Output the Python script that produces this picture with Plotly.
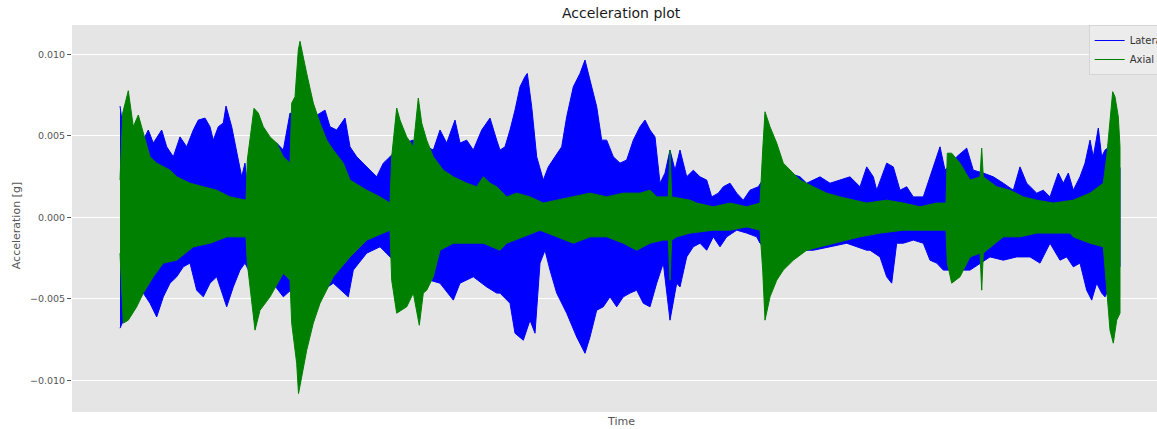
import plotly.graph_objects as go

# ---- Lateral acceleration envelope (time in s, acceleration in g) ----
lat_up_t = [0.0, 0.33, 1.0, 1.67, 2.33, 2.83, 3.33, 4.17, 4.67, 5.33,
            6.0, 6.67, 7.33, 7.83, 8.5, 9.0, 9.33, 9.83, 10.33, 10.6,
            11.17, 11.67, 12.17, 12.5, 12.67, 13.5, 15.0, 15.67, 16.33, 17.0,
            18.5, 19.5, 20.5, 21.0, 21.67, 22.5, 23.0, 23.67, 24.33, 25.0,
            25.67, 26.33, 27.0, 28.2, 29.3, 30.0, 31.33, 32.0, 32.67, 33.5,
            34.0, 34.67, 35.33, 36.17, 37.0, 37.67, 38.0, 38.5, 39.0, 39.5,
            40.0, 40.5, 40.73, 41.17, 41.67, 42.33, 42.83, 43.5, 44.17, 44.67,
            45.33, 46.0, 46.5, 47.0, 47.67, 48.17, 48.67, 49.33, 50.0, 50.67,
            51.33, 52.0, 52.5, 53.0, 53.5, 54.0, 54.5, 55.0, 55.5, 56.0,
            56.67, 57.33, 58.0, 58.67, 59.17, 59.83, 60.33, 61.0, 61.67, 62.33,
            63.0, 63.83, 65.0, 66.5, 68.0, 68.67, 70.0, 71.0, 72.0, 73.0,
            74.0, 74.67, 75.33, 75.67, 76.67, 77.33, 78.0, 78.67, 79.33, 80.33,
            81.0, 81.67, 82.0, 82.5, 83.67, 84.67, 85.33, 86.33, 87.33, 88.33,
            89.33, 90.0, 90.67, 91.67, 92.33, 93.0, 93.83, 94.33, 94.83, 95.33,
            96.0, 96.5, 97.0, 97.33, 97.83, 98.17, 98.5, 99.3, 100.0]
lat_up = [0.00683, 0.00536, 0.00577, 0.00536, 0.00474, 0.00536, 0.00456, 0.00536, 0.00433, 0.00372,
          0.00494, 0.00433, 0.00536, 0.00597, 0.00609, 0.00556, 0.00474, 0.00556, 0.00579, 0.00683,
          0.00556, 0.00394, 0.00249, 0.00333, 0.00229, 0.0055, 0.0045, 0.00456, 0.00413, 0.0064,
          0.0060, 0.0062, 0.00658, 0.00556, 0.00536, 0.00609, 0.00433, 0.00372, 0.00333, 0.0029,
          0.00249, 0.00333, 0.00372, 0.0045, 0.00474, 0.00456, 0.00413, 0.00536, 0.00456, 0.00597,
          0.00456, 0.00474, 0.00413, 0.00536, 0.00609, 0.00474, 0.00413, 0.00433, 0.00536, 0.00658,
          0.00801, 0.00863, 0.00883, 0.00679, 0.00372, 0.00229, 0.0031, 0.00372, 0.00433, 0.00617,
          0.00801, 0.00883, 0.00965, 0.00842, 0.00679, 0.00474, 0.00474, 0.00372, 0.00333, 0.00352,
          0.00474, 0.00556, 0.00597, 0.00536, 0.00494, 0.0021, 0.00272, 0.00413, 0.0029, 0.00413,
          0.00249, 0.0029, 0.00249, 0.00229, 0.00126, 0.00149, 0.00188, 0.0021, 0.00149, 0.00106,
          0.00167, 0.00188, 0.0030, 0.0028, 0.00249, 0.0021, 0.00249, 0.0021, 0.00229, 0.00249,
          0.00188, 0.0031, 0.00249, 0.00167, 0.00333, 0.0031, 0.00167, 0.00188, 0.00126, 0.00126,
          0.00249, 0.00372, 0.00433, 0.0029, 0.00372, 0.00425, 0.0029, 0.00272, 0.00249, 0.0021,
          0.00167, 0.0031, 0.0021, 0.00149, 0.00167, 0.00126, 0.00272, 0.0021, 0.00272, 0.00167,
          0.00249, 0.00333, 0.00474, 0.00372, 0.00548, 0.00372, 0.00413, 0.0045, 0.0030]

lat_lo_t = [0.0, 0.5, 1.0, 1.67, 2.33, 3.0, 3.67, 4.33, 5.0, 5.67,
            6.33, 7.0, 7.67, 8.33, 9.0, 9.67, 10.67, 11.33, 12.0, 12.5,
            13.5, 15.0, 16.33, 17.0, 19.0, 21.33, 22.83, 23.33, 24.67, 26.0,
            27.0, 29.0, 32.0, 33.33, 34.0, 35.33, 36.67, 37.67, 38.0, 39.0,
            39.5, 40.33, 41.0, 41.5, 42.0, 42.5, 43.0, 43.67, 44.67, 45.67,
            46.5, 47.0, 47.67, 48.33, 49.0, 49.67, 50.33, 51.0, 51.67, 52.33,
            53.0, 53.67, 54.33, 55.0, 55.67, 56.0, 56.67, 57.33, 58.0, 58.67,
            59.33, 60.0, 60.67, 61.67, 62.67, 63.67, 64.0, 66.0, 68.0, 69.33,
            71.0, 72.67, 74.67, 75.0, 76.0, 76.67, 77.17, 77.67, 78.33, 79.33,
            80.33, 81.0, 81.67, 82.33, 85.0, 87.0, 88.33, 89.67, 91.0, 92.0,
            93.0, 94.0, 94.67, 95.33, 96.0, 96.67, 97.17, 97.67, 98.17, 98.5,
            100.0]
lat_lo = [-0.00679, -0.0061, -0.00587, -0.00526, -0.00464, -0.00526, -0.0061, -0.00487, -0.00403, -0.00364,
          -0.00303, -0.0028, -0.00446, -0.00487, -0.00403, -0.00364, -0.00548, -0.00426, -0.00323, -0.0028,
          -0.0040, -0.0038, -0.00487, -0.0045, -0.0050, -0.00403, -0.00487, -0.00323, -0.00219, -0.0018,
          -0.00242, -0.0035, -0.00403, -0.00507, -0.00403, -0.00364, -0.00426, -0.00464, -0.00464, -0.00526,
          -0.0071, -0.00753, -0.0063, -0.0071, -0.0028, -0.00201, -0.00323, -0.00464, -0.00587, -0.00733,
          -0.00833, -0.00733, -0.00569, -0.00548, -0.00487, -0.00548, -0.00487, -0.00464, -0.00446, -0.00526,
          -0.00548, -0.00403, -0.0028, -0.0063, -0.00403, -0.00426, -0.00242, -0.0018, -0.00158, -0.00201,
          -0.00119, -0.0018, -0.00119, -0.00078, -0.00096, -0.00119, -0.00158, -0.0028, -0.00201, -0.00201,
          -0.0018, -0.00158, -0.00201, -0.00201, -0.00242, -0.00364, -0.00403, -0.00158, -0.00158, -0.00139,
          -0.00158, -0.00262, -0.0028, -0.00323, -0.00323, -0.00242, -0.00262, -0.00242, -0.00242, -0.0028,
          -0.00158, -0.00262, -0.00242, -0.00303, -0.0028, -0.00446, -0.00507, -0.00403, -0.00464, -0.00487,
          -0.0030]

# ---- Axial acceleration envelope ----
ax_up_t = [0.0, 0.27, 0.83, 1.33, 1.83, 2.33, 3.0, 3.67, 4.33, 5.0,
           5.67, 7.0, 8.33, 9.67, 11.0, 12.6, 12.73, 13.4, 13.83, 14.33,
           15.0, 15.67, 16.33, 17.0, 17.17, 17.5, 17.83, 18.0, 18.67, 19.33,
           20.0, 20.67, 21.33, 22.33, 23.0, 24.67, 26.0, 27.0, 27.17, 27.67,
           28.0, 28.67, 29.33, 29.83, 30.17, 30.67, 31.33, 32.33, 33.33, 34.67,
           35.67, 36.33, 37.0, 37.67, 38.67, 39.67, 41.0, 42.33, 43.67, 45.33,
           47.0, 48.67, 50.33, 52.0, 53.0, 53.67, 54.83, 55.0, 55.17, 57.0,
           57.67, 59.33, 61.0, 62.67, 64.0, 64.27, 64.5, 65.0, 65.67, 66.33,
           67.0, 68.0, 69.33, 70.67, 72.0, 73.33, 74.67, 76.67, 78.33, 80.0,
           81.67, 82.6, 82.73, 83.17, 84.0, 85.0, 86.0, 86.17, 86.33, 87.67,
           89.0, 90.33, 91.67, 93.33, 95.33, 97.0, 98.33, 98.67, 99.0, 99.27,
           99.5, 99.83, 100.0]
ax_up = [0.00229, 0.0064, 0.00777, 0.00556, 0.00628, 0.00517, 0.00372, 0.00333, 0.0031, 0.0029,
         0.00249, 0.0021, 0.00188, 0.00167, 0.00126, 0.00106, 0.00352, 0.00669, 0.0064, 0.00556,
         0.00494, 0.00456, 0.00372, 0.00333, 0.00701, 0.0074, 0.01026, 0.0108, 0.00883, 0.00701,
         0.00579, 0.00474, 0.00413, 0.00333, 0.00229, 0.00167, 0.00126, 0.00088, 0.00372, 0.00671,
         0.00597, 0.00494, 0.00433, 0.00732, 0.00579, 0.00474, 0.00372, 0.0029, 0.00249, 0.0021,
         0.00188, 0.00249, 0.0021, 0.00188, 0.00126, 0.00149, 0.00126, 0.00088, 0.00106, 0.00126,
         0.00149, 0.00126, 0.00149, 0.00149, 0.00167, 0.00126, 0.00126, 0.00413, 0.00126, 0.00106,
         0.00088, 0.00065, 0.00088, 0.00065, 0.00088, 0.00413, 0.00648, 0.00556, 0.00456, 0.00333,
         0.0029, 0.00229, 0.00188, 0.00149, 0.00126, 0.00106, 0.00088, 0.00106, 0.00088, 0.00065,
         0.00088, 0.00088, 0.00394, 0.00394, 0.00333, 0.00229, 0.00249, 0.00425, 0.00249, 0.00188,
         0.00167, 0.00126, 0.00106, 0.00088, 0.00106, 0.00149, 0.0021, 0.00372, 0.00579, 0.00771,
         0.0074, 0.00617, 0.00433]

ax_lo_t = [0.0, 0.33, 0.83, 1.67, 2.33, 3.33, 4.33, 5.67, 7.33, 9.0,
           10.67, 12.6, 12.73, 13.5, 14.0, 15.0, 16.33, 17.0, 17.17, 17.67,
           17.85, 18.1, 18.67, 19.33, 20.0, 21.33, 23.0, 24.67, 27.0, 27.17,
           27.67, 28.67, 29.33, 29.93, 30.33, 30.67, 31.33, 32.0, 33.33, 34.67,
           36.33, 38.0, 38.67, 40.33, 42.0, 43.67, 45.33, 47.0, 48.67, 50.33,
           51.67, 53.0, 54.33, 54.83, 55.0, 55.17, 55.67, 57.0, 59.33, 61.0,
           62.67, 64.0, 64.27, 64.5, 65.0, 65.67, 66.33, 67.33, 68.67, 70.0,
           71.33, 72.67, 74.0, 76.0, 78.33, 81.67, 82.6, 82.73, 83.17, 84.0,
           85.0, 86.0, 86.17, 86.33, 86.67, 88.33, 90.0, 91.67, 95.0, 95.33,
           97.0, 98.33, 98.67, 99.0, 99.33, 99.67, 100.0]
ax_lo = [-0.00219, -0.00648, -0.0063, -0.00548, -0.00464, -0.00364, -0.0028, -0.00262, -0.0018, -0.00158,
         -0.00119, -0.00119, -0.0028, -0.00691, -0.00569, -0.00487, -0.00342, -0.00385, -0.00648, -0.00894,
         -0.0108, -0.0100, -0.00814, -0.00648, -0.00526, -0.00364, -0.00242, -0.00139, -0.00078, -0.00385,
         -0.00587, -0.00548, -0.00464, -0.00661, -0.00464, -0.00446, -0.00364, -0.00201, -0.00158, -0.00158,
         -0.00158, -0.00201, -0.00158, -0.00119, -0.00078, -0.00119, -0.00158, -0.00119, -0.00119, -0.00158,
         -0.00201, -0.00158, -0.00139, -0.00139, -0.00385, -0.00139, -0.00119, -0.00096, -0.00078, -0.00078,
         -0.00058, -0.00078, -0.00323, -0.0063, -0.00487, -0.00385, -0.00323, -0.00262, -0.00201, -0.0018,
         -0.00158, -0.00139, -0.00119, -0.00096, -0.00078, -0.00078, -0.00078, -0.0028, -0.00403, -0.00364,
         -0.00242, -0.00219, -0.00446, -0.00219, -0.00201, -0.00119, -0.00119, -0.00096, -0.00096, -0.00119,
         -0.00158, -0.0018, -0.00446, -0.00691, -0.00771, -0.0063, -0.00587]

y_ticks = [-0.010, -0.005, 0.0, 0.005, 0.010]
y_tick_labels = ["\u22120.010", "\u22120.005", "0.000", "0.005", "0.010"]

BLUE = "#0000FF"
GREEN = "#008000"
FONT = "DejaVu Sans"


def band(t_up, up, t_lo, lo):
    """Closed outline running along the upper envelope and back along the lower one."""
    return list(t_up) + list(t_lo)[::-1], list(up) + list(lo)[::-1]


fig = go.Figure()
for name, color, (tu, u, tl, l) in [
    ("Lateral", BLUE, (lat_up_t, lat_up, lat_lo_t, lat_lo)),
    ("Axial", GREEN, (ax_up_t, ax_up, ax_lo_t, ax_lo)),
]:
    xs, ys = band(tu, u, tl, l)
    fig.add_trace(go.Scatter(
        x=xs, y=ys, mode="lines", fill="toself", fillcolor=color,
        line=dict(color=color, width=1), showlegend=False, hoverinfo="skip",
    ))

# legend entries drawn as plain line samples
for name, color in [("Lateral", BLUE), ("Axial", GREEN)]:
    fig.add_trace(go.Scatter(x=[None], y=[None], mode="lines", name=name,
                             line=dict(color=color, width=1)))

fig.update_layout(
    width=1157, height=429,
    margin=dict(l=72, r=0, t=25, b=17, autoexpand=False),
    paper_bgcolor="white",
    plot_bgcolor="#E5E5E5",
    font=dict(family=FONT, color="#555555"),
    showlegend=True,
    legend=dict(
        x=0.937, y=1.0, xanchor="left", yanchor="top",
        bgcolor="rgba(236,236,236,0.9)", bordercolor="#D5D5D5", borderwidth=1,
        font=dict(family=FONT, size=10, color="#333333"),
        tracegroupgap=0,
    ),
    xaxis=dict(range=[-4.8, 103.7], showticklabels=False, showgrid=False,
               zeroline=False, ticks="", showline=False),
    yaxis=dict(range=[-0.01193, 0.0118], tickvals=y_ticks, ticktext=y_tick_labels,
               ticks="outside", ticklen=4, tickcolor="#555555", tickwidth=1,
               tickfont=dict(family=FONT, size=9.5, color="#555555"),
               showgrid=True, gridcolor="white", gridwidth=1,
               zeroline=False, showline=False),
    annotations=[
        dict(text="Acceleration plot", xref="paper", yref="paper", x=0.506, y=1,
             yshift=12, xanchor="center", yanchor="middle", showarrow=False,
             font=dict(family=FONT, size=14, color="#1a1a1a")),
        dict(text="Time", xref="paper", yref="paper", x=0.506, y=0,
             yshift=-9, xanchor="center", yanchor="middle", showarrow=False,
             font=dict(family=FONT, size=11, color="#555555")),
        dict(text="Acceleration [g]", xref="paper", yref="paper", x=0, y=0.48,
             xshift=-56, xanchor="center", yanchor="middle", textangle=-90,
             showarrow=False, font=dict(family=FONT, size=11, color="#555555")),
    ],
)

fig.write_html("out.html")
